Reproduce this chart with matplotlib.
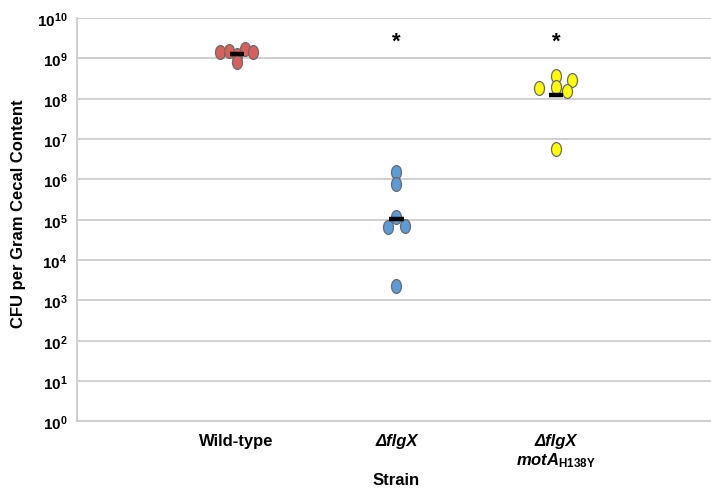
import matplotlib
matplotlib.use("Agg")
import matplotlib.pyplot as plt
import numpy as np
from matplotlib.path import Path
from matplotlib.transforms import Affine2D

plt.rcParams['font.family'] = ['Liberation Sans', 'DejaVu Sans']
plt.rcParams['mathtext.fontset'] = 'custom'
plt.rcParams['mathtext.rm'] = 'Liberation Sans:bold'
plt.rcParams['mathtext.it'] = 'Liberation Sans:italic:bold'
plt.rcParams['mathtext.bf'] = 'Liberation Sans:bold'

# CFU per gram cecal content
wild_type = [1.44e9, 1.52e9, 1.21e9, 8.1e8, 1.70e9, 1.44e9]
flgx = [1.5e6, 7.7e5, 1.15e5, 6.5e4, 7.1e4, 2.3e3]
flgx_mota = [1.84e8, 3.59e8, 1.92e8, 2.96e8, 1.58e8, 5.7e6]
significant = [False, True, True]
yticks = [10.0**k for k in range(0, 11)]

# horizontal scatter of the points around each strain
jitter_wt = [-0.107, -0.05, 0.0, 0.0, 0.05, 0.1]
jitter_flgx = [0.0, 0.0, 0.0, -0.05, 0.055, 0.0]
jitter_mota = [-0.105, 0.0, 0.0, 0.1, 0.07, 0.0]

groups = [wild_type, flgx, flgx_mota]
jitters = [jitter_wt, jitter_flgx, jitter_mota]
colors = ['#d7615a', '#5b9bd8', '#ffff00']

# tall oval marker
oval = Path.unit_circle().transformed(Affine2D().scale(0.72, 1.0))

fig = plt.figure(figsize=(7.11, 4.89), dpi=100)
ax = fig.add_axes([0.1083, 0.136, 0.8917, 0.825])

for i, (vals, jit, c) in enumerate(zip(groups, jitters, colors)):
    xpos = i + 1 + np.array(jit)
    ax.plot(xpos, vals, linestyle='none', marker=oval, markersize=10,
            markerfacecolor=c, markeredgecolor='#6a6a6a', markeredgewidth=0.9,
            zorder=3)
    gmean = 10 ** np.mean(np.log10(vals))
    ax.hlines(gmean, i + 1 - 0.045, i + 1 + 0.045, color='black', lw=3.2, zorder=4)
    if significant[i]:
        ax.text(i + 1, 2.6e9, '*', ha='center', va='center', fontsize=16,
                fontweight='bold')

ax.set_yscale('log')
ax.set_ylim(1, 1e10)
ax.set_xlim(0, 3.97)
ax.set_yticks(yticks)
ax.set_yticklabels([f'$10^{{{k}}}$' for k in range(0, 11)])
ax.yaxis.set_minor_locator(matplotlib.ticker.NullLocator())
ax.set_xticks([])
ax.tick_params(axis='y', length=0, pad=7, labelsize=11)
ax.grid(axis='y', color='#cccccc', lw=1.3)
ax.set_axisbelow(True)
for s in ['top', 'right']:
    ax.spines[s].set_visible(False)
for s in ['left', 'bottom']:
    ax.spines[s].set_color('#cccccc')
    ax.spines[s].set_linewidth(1.3)

ax.set_ylabel('CFU per Gram Cecal Content', fontsize=12, fontweight='bold')
ax.yaxis.set_label_coords(-0.081, 0.518)

trans = matplotlib.transforms.blended_transform_factory(ax.transData, fig.transFigure)
ax.text(1, 1 - 442 / 489, 'Wild-type', transform=trans, ha='center', va='center',
        fontsize=12, fontweight='bold')
ax.text(2, 1 - 442 / 489, 'ΔflgX', transform=trans, ha='center', va='center',
        fontsize=12, fontweight='bold', fontstyle='italic')
ax.text(3, 1 - 442 / 489, 'ΔflgX', transform=trans, ha='center', va='center',
        fontsize=12, fontweight='bold', fontstyle='italic')
ax.text(3, 1 - 461 / 489, r'$\mathit{motA}_{\mathrm{H138Y}}$', transform=trans,
        ha='center', va='center', fontsize=12)
ax.text(2, 1 - 481 / 489, 'Strain', transform=trans, ha='center', va='center',
        fontsize=12, fontweight='bold')

fig.savefig('out.png', dpi=100)
